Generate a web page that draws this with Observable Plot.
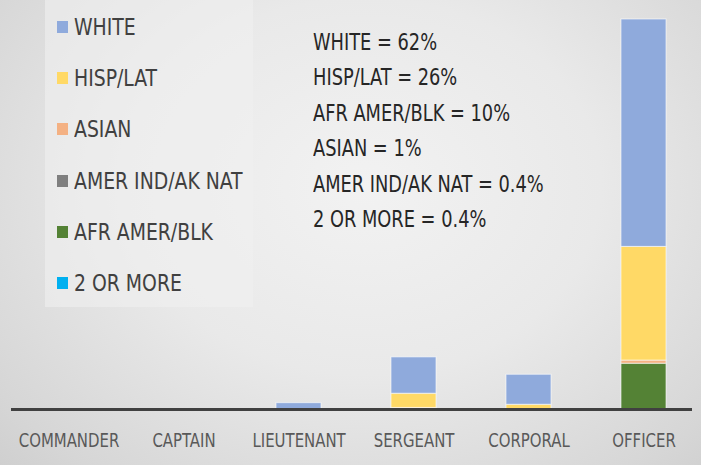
<!DOCTYPE html>
<html>
<head>
<meta charset="utf-8">
<script src="https://cdn.jsdelivr.net/npm/d3@7"></script>
<script src="https://cdn.jsdelivr.net/npm/@observablehq/plot@0.6"></script>
<style>
  html, body { margin: 0; padding: 0; }
  body { width: 701px; height: 465px; overflow: hidden; }
  #wrap {
    position: relative; width: 701px; height: 465px;
    background: radial-gradient(ellipse 75% 90% at 52% 40%, #f2f2f2 0%, #e9e9e9 45%, #d6d6d6 85%, #cdcdcd 100%);
    font-family: "DejaVu Sans Condensed", "DejaVu Sans", sans-serif;
  }
  #chart { position: absolute; left: 0; top: 0; }
  #legend {
    position: absolute; left: 45px; top: 0px; width: 208px; height: 307px;
    background: rgba(240,240,240,0.6);
  }
  .item { position: absolute; left: 12px; height: 24px; display: flex; align-items: center; color: #404040; font-size: 23px; white-space: nowrap; }
  .item span { display: inline-block; transform: scaleX(0.91); transform-origin: left center; }
  .sw { width: 11px; height: 12px; margin-right: 6px; flex: none; }
  #notes { position: absolute; left: 313px; top: 25px; color: #262626; font-size: 23px; line-height: 35.4px; white-space: nowrap; transform: scaleX(0.86); transform-origin: left top; }
</style>
</head>
<body>
<div id="wrap">
  <div id="chart"></div>
  <div id="legend"></div>
  <div id="notes"></div>
</div>
<script>
// categories
const ranks = ["COMMANDER", "CAPTAIN", "LIEUTENANT", "SERGEANT", "CORPORAL", "OFFICER"];
// series (bottom to top of stack)
const seriesNames = ["2 OR MORE", "AFR AMER/BLK", "AMER IND/AK NAT", "ASIAN", "HISP/LAT", "WHITE"];
const seriesColors = ["#00b0f0", "#548235", "#7f7f7f", "#f4b183", "#ffd966", "#8faadc"];
// legend order
const legendOrder = ["WHITE", "HISP/LAT", "ASIAN", "AMER IND/AK NAT", "AFR AMER/BLK", "2 OR MORE"];
// values per rank (counts)
const twoOrMore = [0, 0, 0, 0, 0, 0];
const afrAmer   = [0, 0, 0, 0, 0, 29];
const amerInd   = [0, 0, 0, 0, 0, 0];
const asian     = [0, 0, 0, 1, 0, 2];
const hispLat   = [0, 0, 0, 9, 3, 72];
const white     = [0, 0, 4, 23, 19, 144];
// summary text
const summary = ["WHITE = 62%", "HISP/LAT = 26%", "AFR AMER/BLK = 10%", "ASIAN = 1%", "AMER IND/AK NAT = 0.4%", "2 OR MORE = 0.4%"];

const valuesBySeries = [twoOrMore, afrAmer, amerInd, asian, hispLat, white];
const rows = [];
seriesNames.forEach((s, i) => ranks.forEach((r, j) => rows.push({rank: r, series: s, value: valuesBySeries[i][j]})));
const yMax = d3.max(ranks.map((r, j) => d3.sum(valuesBySeries, v => v[j])));

const font = '"DejaVu Sans Condensed", "DejaVu Sans", sans-serif';

const chart = Plot.plot({
  width: 701,
  height: 465,
  marginTop: 19,
  marginBottom: 56,
  marginLeft: 11,
  marginRight: 9,
  style: {background: "transparent", fontFamily: font, overflow: "visible"},
  x: {domain: ranks, range: [9, 702], paddingInner: 0.61, paddingOuter: 0.305, axis: null},
  y: {domain: [0, yMax], axis: null},
  color: {domain: seriesNames, range: seriesColors},
  marks: [
    Plot.barY(rows, Plot.stackY({order: seriesNames}, {x: "rank", y: "value", fill: "series", stroke: "#ffffff", strokeOpacity: 0.6, strokeWidth: 1})),
    Plot.ruleY([0], {stroke: "#404040", strokeWidth: 3}),
    Plot.axisX({tickSize: 0, tickPadding: 23, fontSize: 20, fill: "#595959", fontFamily: font, label: null})
  ]
});
document.getElementById("chart").append(chart);
// condense the tick labels horizontally about their own centre
const rankSet = new Set(ranks);
d3.select(chart).selectAll("text").each(function() {
  if (!rankSet.has(this.textContent)) return;
  const bb = this.getBBox();
  const cx = bb.x + bb.width / 2;
  const t = this.getAttribute("transform") || "";
  this.setAttribute("transform", `${t} translate(${cx},0) scale(0.83,1) translate(${-cx},0)`);
});

const legend = d3.select("#legend");
legendOrder.forEach((name, i) => {
  const it = legend.append("div").attr("class", "item").style("top", (15 + i * 51.2) + "px");
  it.append("div").attr("class", "sw").style("background", seriesColors[seriesNames.indexOf(name)]);
  it.append("span").text(name);
});
const notes = d3.select("#notes");
summary.forEach(t => notes.append("div").text(t));
</script>
</body>
</html>
